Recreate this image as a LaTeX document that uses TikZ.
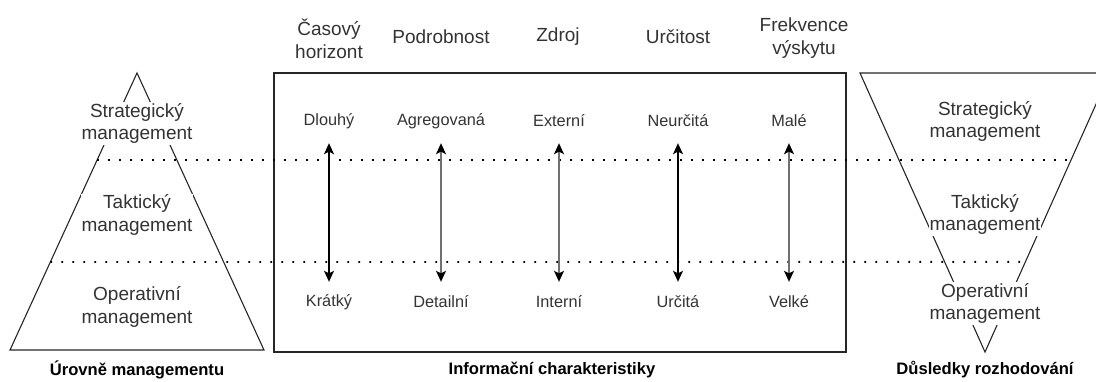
\documentclass[tikz,border=0pt]{standalone}
\usepackage{fontspec}
\setmainfont{Liberation Sans}
\usetikzlibrary{arrows.meta,calc}
\definecolor{txt}{HTML}{333333}
\definecolor{arrgray}{HTML}{707070}
\begin{document}
\begin{tikzpicture}[x=1pt,y=-1pt,
  level/.style={fill=white,inner sep=1pt,align=center,text=txt,
    font=\fontsize{19}{22.5}\selectfont},
  header/.style={align=center,text=txt,font=\fontsize{19}{23}\selectfont},
  value/.style={inner sep=0pt,minimum height=24pt,text=txt,
    font=\fontsize{16.3}{19}\selectfont},
  caption/.style={text=black,font=\fontsize{16.6}{19}\selectfont\bfseries},
  levelsep/.style={line width=1.8pt,dash pattern=on 1.8pt off 9.2pt},
  rangearrow/.style={line width=1.3pt,
    {Stealth[length=11pt,width=10pt,inset=2.5pt,color=black]}-{Stealth[length=11pt,width=10pt,inset=2.5pt,color=black]},
    shorten <=10pt,shorten >=8pt},
  outline/.style={line width=1.1pt,draw=black!85}]
\useasboundingbox (0,0) rectangle (1096,381);
\clip (0,0) rectangle (1096,381);

% management pyramid
\coordinate (pa) at (137,73);
\coordinate (pl) at (10,350);
\coordinate (pr) at (264,350);
\draw[outline] (pa) -- (pl) -- (pr) -- cycle;

% decision funnel
\coordinate (fl) at (860,73);
\coordinate (fr) at (1110,73);
\coordinate (fa) at (985,352);
\draw[outline] (fl) -- (fr) -- (fa) -- cycle;

% information characteristics frame
\draw[outline] (274,73) rectangle (846,352);

% boundaries between management levels
\coordinate (s1l) at ($(pa)!0.314!(pl)$);
\coordinate (s2l) at ($(pa)!0.682!(pl)$);
\coordinate (s1r) at ($(fr)!0.312!(fa)$);
\coordinate (s2r) at ($(fr)!0.677!(fa)$);
\draw[levelsep] (s1l) -- (s1r);
\draw[levelsep] (s2l) -- (s2r);

% level labels
\node[level] (ls) at (137,123.5) {Strategický\\management};
\node[level] (lt) at (137,215) {Taktický\\management};
\node[level] (lo) at (137,307) {Operativní\\management};
\node[level] (rs) at (985,121.5) {Strategický\\management};
\node[level] (rt) at (985,214.5) {Taktický\\management};
\node[level] (ro) at (985,303.5) {Operativní\\management};

% column headers
\node[header] (h1) at (329,38.5) {Časový\\horizont};
\node[header] (h2) at (441,37) {Podrobnost};
\node[header] (h3) at (558,37) {Zdroj};
\node[header] (h4) at (678,37) {Určitost};
\node[header] (h5) at (804,38.5) {Frekvence\\výskytu};

% value ranges
\node[value] (t1) at (329,121) {Dlouhý};
\node[value] (t2) at (441,121) {Agregovaná};
\node[value] (t3) at (559,121) {Externí};
\node[value] (t4) at (678,121) {Neurčitá};
\node[value] (t5) at (789,121) {Malé};
\node[value] (b1) at (329,302) {Krátký};
\node[value] (b2) at (441,302) {Detailní};
\node[value] (b3) at (559,302) {Interní};
\node[value] (b4) at (678,302) {Určitá};
\node[value] (b5) at (789,302) {Velké};

\draw[rangearrow,black] (t1) -- (b1);
\draw[rangearrow,arrgray] (t2) -- (b2);
\draw[rangearrow,arrgray] (t3) -- (b3);
\draw[rangearrow,black] (t4) -- (b4);
\draw[rangearrow,arrgray] (t5) -- (b5);

% captions
\node[caption] (c1) at (137,370) {Úrovně managementu};
\node[caption] (c2) at (552,370) {Informační charakteristiky};
\node[caption] (c3) at (985,370) {Důsledky rozhodování};
\end{tikzpicture}
\end{document}
